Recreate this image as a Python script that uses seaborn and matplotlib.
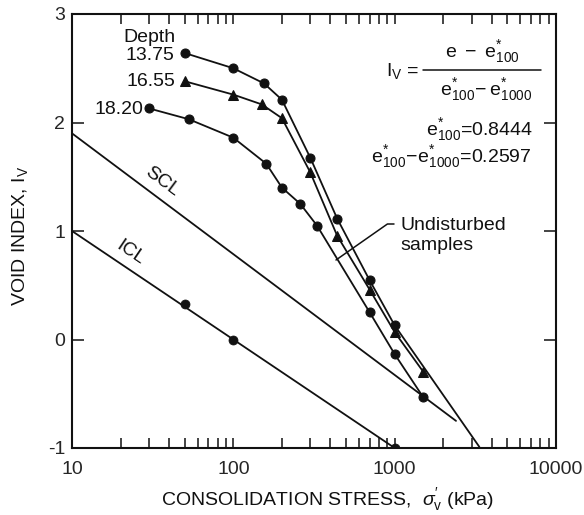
import matplotlib
matplotlib.use("Agg")
import matplotlib.pyplot as plt
import matplotlib.ticker as mticker
import numpy as np
import pandas as pd
import seaborn as sns

# ---------------- data ----------------
stress_1375 = [50, 100, 155, 200, 300, 440, 700, 1000]
iv_1375 = [2.64, 2.50, 2.36, 2.21, 1.675, 1.115, 0.545, 0.13]
ext_1375_stress = [1000, 3350]
ext_1375_iv = [0.13, -0.99]

stress_1655 = [50, 100, 150, 200, 300, 440, 700, 1000, 1500]
iv_1655 = [2.38, 2.257, 2.167, 2.04, 1.54, 0.957, 0.459, 0.068, -0.295]

stress_1820 = [30, 53, 100, 160, 200, 260, 330, 700, 1000, 1500]
iv_1820 = [2.13, 2.03, 1.86, 1.62, 1.40, 1.25, 1.05, 0.25, -0.135, -0.53]

icl_line_stress = [10, 1000]
icl_line_iv = [1.0, -1.0]
icl_pts_stress = [50, 100, 1000]
icl_pts_iv = [0.33, 0.0, -1.0]

scl_stress = [10, 2400]
scl_iv = [1.9, -0.75]

depth_labels = ["13.75", "16.55", "18.20"]
x_ticks = [10, 100, 1000, 10000]
x_ticklabels = ["10", "100", "1000", "10000"]
y_ticks = [-1, 0, 1, 2, 3]

# ---------------- style ----------------
sns.set_style("ticks")
plt.rcParams["font.family"] = ["Liberation Sans", "DejaVu Sans"]
plt.rcParams["mathtext.fontset"] = "custom"
plt.rcParams["mathtext.rm"] = "Liberation Sans"
plt.rcParams["mathtext.it"] = "Liberation Sans:italic"
plt.rcParams["mathtext.bf"] = "Liberation Sans:bold"

W, H = 584, 515
fig = plt.figure(figsize=(W / 100, H / 100), dpi=100)
AX_L, AX_R, AX_T, AX_B = 72, 556, 14, 448
ax = fig.add_axes([AX_L / W, 1 - AX_B / H, (AX_R - AX_L) / W, (AX_B - AX_T) / H])

def fx(px):
    return (px - AX_L) / (AX_R - AX_L)

def fy(py):
    return (AX_B - py) / (AX_B - AX_T)

FS = 14
lc = "#111111"
lw = 1.3
ms = 6.5

df13 = pd.DataFrame({"s": stress_1375, "iv": iv_1375})
df16 = pd.DataFrame({"s": stress_1655, "iv": iv_1655})
df18 = pd.DataFrame({"s": stress_1820, "iv": iv_1820})

sns.lineplot(data=df13, x="s", y="iv", ax=ax, color=lc, lw=lw, marker="o",
             markersize=ms, markeredgecolor=lc, sort=False, estimator=None)
sns.lineplot(x=ext_1375_stress, y=ext_1375_iv, ax=ax, color=lc, lw=lw,
             sort=False, estimator=None)
sns.lineplot(data=df16, x="s", y="iv", ax=ax, color=lc, lw=lw, marker="^",
             markersize=ms + 0.5, markeredgecolor=lc, sort=False, estimator=None)
sns.lineplot(data=df18, x="s", y="iv", ax=ax, color=lc, lw=lw, marker="o",
             markersize=ms, markeredgecolor=lc, sort=False, estimator=None)
sns.lineplot(x=icl_line_stress, y=icl_line_iv, ax=ax, color=lc, lw=lw,
             sort=False, estimator=None)
sns.scatterplot(x=icl_pts_stress, y=icl_pts_iv, ax=ax, color=lc, s=ms ** 2,
                edgecolor=lc, zorder=3)
sns.lineplot(x=scl_stress, y=scl_iv, ax=ax, color=lc, lw=lw,
             sort=False, estimator=None)

ax.set_xscale("log")
ax.set_xlim(10, 10000)
ax.set_ylim(-1, 3)
ax.set_xticks(x_ticks)
ax.set_xticklabels(x_ticklabels)
ax.xaxis.set_minor_locator(mticker.LogLocator(base=10, subs=np.arange(2, 10)))
ax.xaxis.set_minor_formatter(mticker.NullFormatter())
ax.set_yticks(y_ticks)
ax.set_yticklabels([str(v) for v in y_ticks])
ax.set_xlabel("")
ax.set_ylabel("")

for sp in ax.spines.values():
    sp.set_visible(True)
    sp.set_linewidth(1.5)
    sp.set_color(lc)

ax.tick_params(axis="x", which="both", direction="in", top=True, bottom=True,
               length=7, width=1.1, color=lc, labelsize=FS, pad=9)
ax.tick_params(axis="y", which="both", direction="in", left=True, right=True,
               length=8.5, width=1.1, color=lc, labelsize=FS, pad=5)

# ---------------- text ----------------
tkw = dict(transform=ax.transAxes, fontsize=FS, color=lc)
ax.text(fx(123), fy(37), "Depth", ha="left", va="center", **tkw)
ax.text(fx(174), fy(56), depth_labels[0], ha="right", va="center", **tkw)
ax.text(fx(175), fy(81), depth_labels[1], ha="right", va="center", **tkw)
ax.text(fx(143), fy(109), depth_labels[2], ha="right", va="center", **tkw)

ax.text(fx(162), fy(182), "SCL", ha="center", va="center", rotation=-36.5,
        rotation_mode="anchor", **tkw)
ax.text(fx(130), fy(253), "ICL", ha="center", va="center", rotation=-34,
        rotation_mode="anchor", **tkw)

ax.text(fx(400), fy(225), "Undisturbed", ha="left", va="center", **tkw)
ax.text(fx(400), fy(246), "samples", ha="left", va="center", **tkw)
ax.annotate("", xy=(fx(336), fy(260)), xycoords="axes fraction",
            xytext=(fx(394), fy(224)), textcoords="axes fraction",
            arrowprops=dict(arrowstyle="-", color=lc, lw=1.1,
                            connectionstyle="angle,angleA=0,angleB=35,rad=0",
                            shrinkA=0, shrinkB=0))

# equation
ax.text(fx(419), fy(71), r"$\mathrm{I}_{\mathrm{V}}$ =", ha="right", va="center", **tkw)
ax.text(fx(482), fy(52), r"$\mathrm{e}\ -\ \mathrm{e}^{*}_{100}$", ha="center", va="center", **tkw)
ax.plot([fx(423), fx(541)], [fy(69.5), fy(69.5)], transform=ax.transAxes,
        color=lc, lw=1.1)
ax.text(fx(486), fy(90), r"$\mathrm{e}^{*}_{100}\!-\mathrm{e}^{*}_{1000}$", ha="center", va="center", **tkw)
ax.text(fx(533), fy(130), r"$\mathrm{e}^{*}_{100}$=0.8444", ha="right", va="center", **tkw)
ax.text(fx(531), fy(157), r"$\mathrm{e}^{*}_{100}\!-\!\mathrm{e}^{*}_{1000}$=0.2597", ha="right", va="center", **tkw)

# axis labels
fig.text(328 / W, 1 - 500 / H, r"CONSOLIDATION STRESS,  $\sigma^{\prime}_{\mathrm{v}}$ (kPa)",
         ha="center", va="center", fontsize=FS, color=lc)
fig.text(20 / W, 1 - 236 / H, r"VOID INDEX, $\mathrm{I}_{\mathrm{V}}$",
         ha="center", va="center", rotation=90, fontsize=FS, color=lc)

fig.savefig("out.png", dpi=100)
